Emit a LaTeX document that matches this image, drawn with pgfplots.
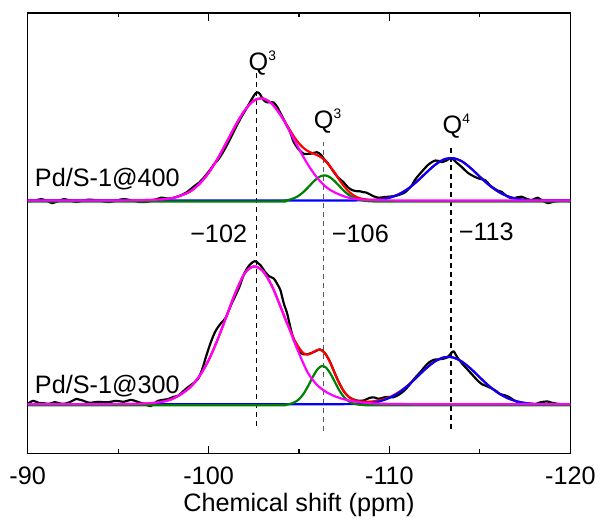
\documentclass[border=0pt]{standalone}
\usepackage{fontspec}
\setmainfont{Liberation Sans}
\usepackage{pgfplots}
\pgfplotsset{compat=1.18}
\definecolor{dgreen}{RGB}{0,128,0}
\definecolor{mag}{RGB}{255,0,255}
\definecolor{bblue}{RGB}{0,0,255}
\definecolor{rred}{RGB}{255,0,0}
\begin{document}
\fontsize{12.8}{15.4}\selectfont
\begin{tikzpicture}
\begin{axis}[
  name=ax,
  scale only axis, width=274.35bp, height=222.5bp,
  xmin=-120, xmax=-90, x dir=reverse,
  ymin=0, ymax=445,
  xtick={-90,-100,-110,-120}, xticklabels={-90,-100,-110,-120},
  minor xtick={-95,-105,-115},
  ytick=\empty,
  minor ytick={49.4,98.9,148.3,197.8,247.2,296.7,346.1,395.6},
  major tick length=3.8bp, minor tick length=2bp,
  tick style={black, line width=0.6bp},
  axis line style={line width=0.75bp},
  xticklabel style={anchor=base, yshift=-15.85bp},
  xlabel={Chemical shift (ppm)},
  xlabel style={at={(axis description cs:0.5,0)}, anchor=base, yshift=-29.35bp},
  every axis plot/.append style={line join=round},
]
% dashed guide lines
\addplot[black, line width=0.6bp, dash pattern=on 2.5bp off 2bp] coordinates {(-102.65,28) (-102.65,386)};
\addplot[black!65, line width=0.6bp, dash pattern=on 2.5bp off 2bp] coordinates {(-106.35,23) (-106.35,315)};
\addplot[black, line width=0.6bp, dash pattern=on 2.5bp off 2bp] coordinates {(-113.4,25) (-113.4,310)};

% ===== Pd/S-1@400 (top) =====
\addplot[black, line width=1.1bp, smooth] coordinates {
(-90,255) (-90.4,255.5) (-90.75,257) (-91.1,255) (-91.35,253) (-91.7,255) (-92.0,257) (-92.35,255.5)
(-92.7,254) (-93.05,255.5) (-93.4,256.5) (-93.9,255.5) (-94.5,254) (-94.9,255.5) (-95.3,257) (-95.8,255.5)
(-96.2,254) (-96.5,254) (-96.9,255.5) (-97.4,258.5) (-97.7,257.5) (-98.0,258) (-98.5,261) (-98.8,264)
(-99.2,270) (-99.5,274) (-99.8,280) (-100.1,287) (-100.33,293) (-100.5,296) (-100.75,303) (-101.0,311)
(-101.24,319.7) (-101.5,329) (-101.75,338) (-101.97,344.7) (-102.2,352) (-102.45,360) (-102.6,364) (-102.7,365)
(-102.85,363) (-103.0,358) (-103.2,355) (-103.45,355) (-103.6,354.7) (-103.8,350) (-104.0,343) (-104.25,334)
(-104.5,325) (-104.7,315) (-104.89,309.4) (-105.1,305) (-105.3,302.5) (-105.44,302.7) (-105.7,303) (-105.98,304.4)
(-106.2,302) (-106.4,297) (-106.6,293) (-106.9,285) (-107.15,279) (-107.44,274.4) (-107.7,269) (-107.95,266)
(-108.2,265) (-108.35,265) (-108.55,264) (-108.7,263.7) (-108.9,262) (-109.1,260) (-109.4,258.4) (-109.7,259)
(-110.0,259.5) (-110.36,260.4) (-110.65,262) (-110.9,264.4) (-111.2,270) (-111.46,277.7) (-111.8,285) (-112.1,291)
(-112.35,294.5) (-112.55,296) (-112.75,295.5) (-112.9,294.4) (-113.15,296) (-113.43,298.4) (-113.7,294) (-114.0,289.4)
(-114.3,284) (-114.56,281) (-114.9,278) (-115.3,276) (-115.55,271) (-115.8,267.7) (-116.0,265.5) (-116.2,264.4)
(-116.45,260.5) (-116.75,257.7) (-117.0,258.5) (-117.3,259.4) (-117.55,257.5) (-117.84,256) (-118.05,257.5) (-118.2,258.4)
(-118.45,255.5) (-118.75,253) (-119.0,254) (-119.3,255) (-119.6,255.3) (-120,255)};
\addplot[rred, line width=1.1bp, smooth] coordinates {
(-90,255.6) (-92,255.6) (-94,255.6) (-95,255.6) (-96,255.8) (-96.5,256.0) (-97,256.3) (-97.5,256.8) (-98,258.0) (-98.5,260.8) (-99,264.9)
(-99.5,272.5) (-100,283.4) (-100.5,297.8) (-101,314.6) (-101.5,331.9) (-102,346.8) (-102.5,356.5) (-103,358.8)
(-103.5,353.4) (-104,341.6) (-104.25,334.2) (-104.5,326.7) (-104.75,319.4) (-105,313.3) (-105.25,308.7) (-105.5,305.4)
(-105.75,303.4) (-106,301.5) (-106.25,298.9) (-106.5,294.9) (-106.75,289.2) (-107,283.1) (-107.25,275.8) (-107.5,269.8)
(-107.75,264.7) (-108,261.0) (-108.25,258.6) (-108.5,257.2) (-108.75,256.65) (-109,256.3) (-109.5,256.8) (-110,258.5)
(-110.5,261.8) (-111,267.1) (-111.5,274.5) (-112,283.1) (-112.5,291.3) (-113,297.0) (-113.5,298.4) (-114,295.2)
(-114.5,288.2) (-115,279.6) (-115.5,271.3) (-116,264.7) (-116.5,260.1) (-117,257.4) (-117.5,256.0) (-118,255.6)
(-118.5,255.6) (-119,255.6) (-120,255.6)};
\addplot[bblue, line width=1.1bp, smooth] coordinates {
(-90,255.6) (-100,255.6) (-107.5,255.6) (-108,255.65) (-108.5,255.7) (-109,255.9) (-109.5,256.6) (-110,258.3) (-110.5,261.7)
(-111,267.1) (-111.5,274.5) (-112,283.1) (-112.5,291.3) (-113,297.0) (-113.5,298.4) (-114,295.2) (-114.5,288.2)
(-115,279.6) (-115.5,271.3) (-116,264.7) (-116.5,260.1) (-117,257.4) (-117.5,256.2) (-118,255.7) (-118.5,255.6)
(-119,255.6) (-120,255.6)};
\addplot[dgreen, line width=1.1bp, smooth] coordinates {
(-90,254.6) (-96,254.6) (-103.75,254.6) (-104,254.9) (-104.25,255.5) (-104.5,256.55) (-104.75,258.1) (-105,260.6) (-105.25,264.25)
(-105.5,268.8) (-105.75,273.7) (-106,277.9) (-106.25,280.5) (-106.5,280.8) (-106.75,278.6) (-107,274.6) (-107.25,269.8)
(-107.5,265.1) (-107.75,261.26) (-108,258.5) (-108.25,256.7) (-108.5,255.6) (-108.75,255.0) (-109,254.75) (-109.5,254.6) (-114,254.6) (-120,254.6)};
\addplot[mag, line width=1.1bp, smooth] coordinates {
(-90,255.6) (-92,255.6) (-94,255.6) (-95,255.6) (-96,255.8) (-96.5,256.0) (-97,256.3) (-97.5,256.8) (-98,258.0) (-98.5,260.8) (-99,264.9)
(-99.5,272.5) (-100,283.4) (-100.5,297.8) (-101,314.6) (-101.5,331.9) (-102,346.8) (-102.5,356.5) (-103,358.8)
(-103.5,353.4) (-104,341.3) (-104.5,325.1) (-105,307.7) (-105.5,291.6) (-106,278.6) (-106.5,269.1) (-107,263.5)
(-107.5,259.7) (-108,257.4) (-108.5,256.5) (-109,256.0) (-109.5,255.8) (-110,255.7) (-111,255.6) (-114,255.6) (-117,255.6) (-120,255.6)};

% ===== Pd/S-1@300 (bottom) =====
\addplot[black, line width=1.1bp, smooth] coordinates {
(-90,50) (-90.3,53) (-90.6,51) (-90.9,50.5) (-91.2,50) (-91.5,51.7) (-91.75,50.5) (-92.0,50) (-92.3,51.5)
(-92.7,55) (-92.9,54) (-93.1,53) (-93.4,51) (-93.9,52) (-94.4,51.5) (-94.9,53) (-95.3,52) (-95.7,54)
(-96.0,52.5) (-96.4,50) (-96.8,47.7) (-97.0,50.5) (-97.2,53) (-97.5,54) (-97.8,55) (-98.05,57) (-98.3,58)
(-98.5,61) (-98.8,66) (-99.1,70) (-99.41,75) (-99.65,85) (-99.87,98.3) (-100.1,111) (-100.33,121.6) (-100.5,127)
(-100.69,131.6) (-100.95,137) (-101.24,150) (-101.45,158) (-101.7,168) (-101.97,181.6) (-102.25,190) (-102.55,194.3)
(-102.75,192) (-102.88,190) (-103.1,184) (-103.35,179) (-103.61,176.6) (-103.8,171) (-103.97,165) (-104.15,152)
(-104.34,141.6) (-104.5,129) (-104.7,115) (-104.9,107) (-105.07,101.6) (-105.25,100) (-105.44,100) (-105.7,101.5)
(-105.95,103.5) (-106.16,105) (-106.4,102) (-106.7,93) (-107.0,80) (-107.25,70) (-107.5,62) (-107.75,57)
(-108.0,54.5) (-108.3,53) (-108.6,53.5) (-108.9,56) (-109.15,56.5) (-109.4,55) (-109.7,56.5) (-109.95,57)
(-110.2,56.5) (-110.5,59) (-110.8,63) (-111.1,69) (-111.4,76) (-111.7,82) (-111.95,87.5) (-112.2,92)
(-112.45,94.5) (-112.7,95) (-112.95,95.5) (-113.2,97) (-113.4,101) (-113.55,103) (-113.75,97) (-114.0,91)
(-114.3,85) (-114.6,79) (-114.85,74) (-115.1,70) (-115.35,68) (-115.6,66) (-115.9,63) (-116.1,60)
(-116.4,58.5) (-116.6,57) (-116.85,54) (-117.1,51.5) (-117.4,50) (-117.7,49.5) (-118.0,49) (-118.25,51)
(-118.5,52) (-118.75,52.3) (-119.0,51) (-119.3,50) (-119.6,49.5) (-120,49)};
\addplot[rred, line width=1.1bp, smooth] coordinates {
(-90,49.6) (-92,49.6) (-94,49.6) (-95,49.7) (-95.5,49.8) (-96,50.0) (-96.5,50.3) (-97,50.9) (-97.5,52.3) (-98,55.0) (-98.5,60.0)
(-99,67.0) (-99.5,78.1) (-100,94.0) (-100.5,115.0) (-101,139.0) (-101.5,163.0) (-102,182.0) (-102.5,188.9)
(-103,184.3) (-103.5,169.2) (-104,147.2) (-104.25,135.2) (-104.5,125.0) (-104.75,114.5) (-105,106.7) (-105.25,101.1)
(-105.5,99.9) (-105.75,101.8) (-106,104.4) (-106.25,104.2) (-106.5,99.5) (-106.75,90.6) (-107,79.9) (-107.25,69.9)
(-107.5,62.1) (-107.75,57.1) (-108,54.2) (-108.25,52.8) (-108.5,52.2) (-109,52.3) (-109.5,53.8) (-110,56.7)
(-110.5,61.6) (-111,68.4) (-111.5,76.8) (-112,85.5) (-112.5,92.7) (-113,96.9) (-113.5,96.9) (-114,92.7)
(-114.5,85.4) (-115,76.6) (-115.5,68.1) (-116,61.1) (-116.5,56.0) (-117,52.7) (-117.5,50.8) (-118,49.9)
(-118.5,49.6) (-119,49.6) (-120,49.6)};
\addplot[bblue, line width=1.1bp, smooth] coordinates {
(-90,49.6) (-100,49.6) (-106.5,49.6) (-107,49.6) (-107.5,49.65) (-108,49.75) (-108.5,50.0) (-109,50.8) (-109.5,52.7)
(-110,56.0) (-110.5,61.1) (-111,68.1) (-111.5,76.6) (-112,85.4) (-112.5,92.7) (-113,96.9) (-113.5,96.9)
(-114,92.7) (-114.5,85.4) (-115,76.6) (-115.5,68.1) (-116,61.1) (-116.5,56.0) (-117,52.7) (-117.5,50.8)
(-118,49.9) (-118.5,49.65) (-119,49.6) (-119.5,49.6) (-120,49.6)};
\addplot[dgreen, line width=1.1bp, smooth] coordinates {
(-90,48.6) (-96,48.6) (-103.75,48.6) (-104,48.8) (-104.25,49.1) (-104.5,49.9) (-104.75,51.5) (-105,54.65) (-105.25,60.1)
(-105.5,67.9) (-105.75,76.8) (-106,84.4) (-106.25,88.2) (-106.5,86.5) (-106.75,80.1) (-107,71.4) (-107.25,62.9)
(-107.5,56.5) (-107.75,52.5) (-108,50.3) (-108.25,49.3) (-108.5,48.85) (-108.75,48.7) (-109,48.6) (-114,48.6) (-120,48.6)};
\addplot[mag, line width=1.1bp, smooth] coordinates {
(-90,49.6) (-92,49.6) (-94,49.6) (-95,49.7) (-95.5,49.8) (-96,50.0) (-96.5,50.3) (-97,50.9) (-97.5,52.3) (-98,55.0) (-98.5,60.0)
(-99,67.0) (-99.5,78.1) (-100,94.0) (-100.5,115.0) (-101,139.0) (-101.5,163.0) (-102,182.0) (-102.5,188.9)
(-103,184.3) (-103.5,169.2) (-104,147.1) (-104.5,124.0) (-105,101.0) (-105.5,81.0) (-106,69.0) (-106.5,62.0)
(-107,57.5) (-107.5,54.5) (-108,52.5) (-108.5,51.3) (-109,50.5) (-110,49.9) (-111,49.7) (-112,49.6) (-116,49.6) (-120,49.6)};

% labels
\node[anchor=base] at (axis cs:-102.97,387) {Q\raisebox{5.2bp}{\fontsize{7}{8}\selectfont 3}};
\node[anchor=base] at (axis cs:-106.58,328) {Q\raisebox{5.2bp}{\fontsize{7}{8}\selectfont 3}};
\node[anchor=base] at (axis cs:-113.7,323) {Q\raisebox{5.2bp}{\fontsize{7}{8}\selectfont 4}};
\node[anchor=base east, inner sep=0pt] at (axis cs:-102.15,213) {−102};
\node[anchor=base west, inner sep=0pt] at (axis cs:-106.8,213) {−106};
\node[anchor=base west, inner sep=0pt] at (axis cs:-113.81,215) {−113};
\node[anchor=base west, inner sep=0pt] at (axis cs:-90.38,270) {Pd/S-1@400};
\node[anchor=base west, inner sep=0pt] at (axis cs:-90.38,60) {Pd/S-1@300};
\end{axis}
\path[use as bounding box] ([xshift=-14bp,yshift=-32.85bp]ax.south west) rectangle ([xshift=13.65bp,yshift=6.65bp]ax.north east);
\end{tikzpicture}
\end{document}
